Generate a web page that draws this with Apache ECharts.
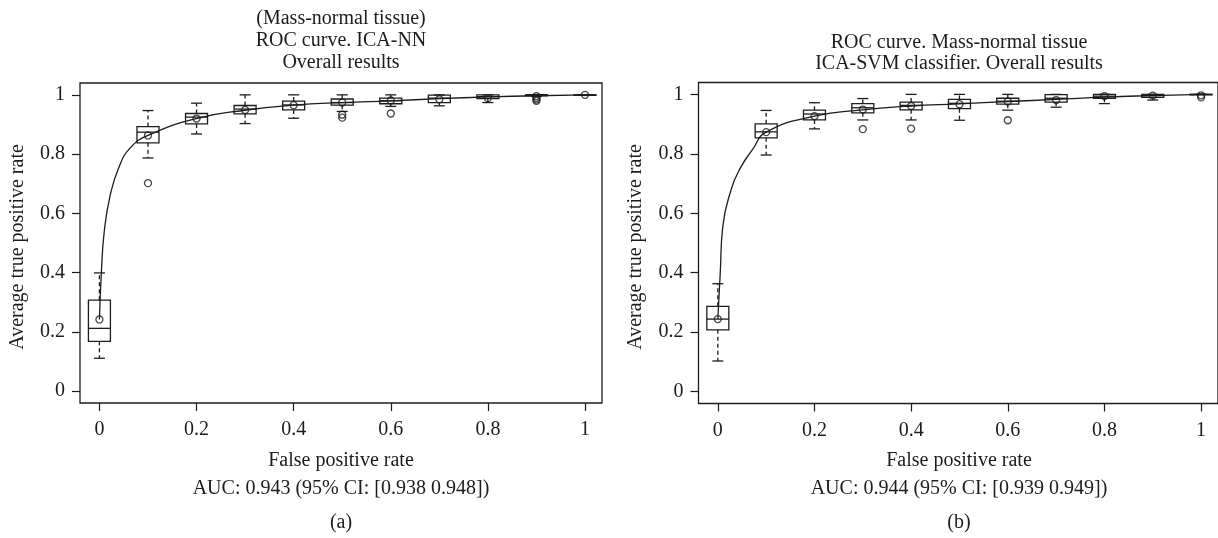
<!DOCTYPE html>
<html>
<head>
<meta charset="utf-8">
<script src="https://cdn.jsdelivr.net/npm/echarts@6/dist/echarts.min.js"></script>
<style>
  html, body { margin: 0; padding: 0; background: #fff; }
  #chart { width: 1218px; height: 538px; }
</style>
</head>
<body>
<div id="chart"></div>
<script>
// False positive rate positions of the cross-validation boxes
const fpr = [0, 0.1, 0.2, 0.3, 0.4, 0.5, 0.6, 0.7, 0.8, 0.9, 1.0];
const axisTicks = [0, 0.2, 0.4, 0.6, 0.8, 1];

// (a) ICA-NN: box statistics of the true positive rate per FPR
const nnLow  = [0.111, 0.787, 0.868, 0.903, 0.921, 0.944, 0.961, 0.963, 0.974, 0.995, 1.0];
const nnQ1   = [0.168, 0.838, 0.902, 0.936, 0.949, 0.965, 0.970, 0.974, 0.987, 0.997, 1.0];
const nnMed  = [0.212, 0.874, 0.925, 0.952, 0.966, 0.974, 0.980, 0.989, 0.994, 1.0, 1.0];
const nnQ3   = [0.307, 0.893, 0.937, 0.964, 0.979, 0.986, 0.989, 0.999, 1.0, 1.0, 1.0];
const nnHigh = [0.399, 0.947, 0.972, 1.0, 1.0, 1.0, 1.0, 1.0, 1.0, 1.0, 1.0];
const nnMean = [0.242, 0.863, 0.920, 0.949, 0.965, 0.974, 0.981, 0.985, 0.989, 0.996, 1.0];
const nnOutX = [0.1, 0.5, 0.5, 0.6, 0.9, 0.9, 0.9];
const nnOutY = [0.702, 0.933, 0.923, 0.937, 0.990, 0.985, 0.980];
// averaged ROC curve (a)
const nnCurveX = [0, 0.004, 0.010, 0.022, 0.040, 0.063, 0.1, 0.2, 0.3, 0.4, 0.5, 0.6, 0.7, 0.8, 0.9, 1.0];
const nnCurveY = [0.242, 0.40, 0.54, 0.66, 0.755, 0.82, 0.863, 0.920, 0.948, 0.965, 0.974, 0.980, 0.987, 0.993, 0.997, 1.0];

// (b) ICA-SVM: box statistics of the true positive rate per FPR
const svmLow  = [0.103, 0.796, 0.884, 0.914, 0.914, 0.913, 0.947, 0.957, 0.969, 0.981, 1.0];
const svmQ1   = [0.208, 0.854, 0.914, 0.938, 0.948, 0.952, 0.967, 0.974, 0.987, 0.990, 1.0];
const svmMed  = [0.244, 0.874, 0.934, 0.955, 0.963, 0.970, 0.977, 0.987, 0.994, 0.996, 1.0];
const svmQ3   = [0.287, 0.901, 0.947, 0.969, 0.974, 0.983, 0.987, 0.999, 1.0, 1.0, 1.0];
const svmHigh = [0.363, 0.946, 0.972, 0.986, 1.0, 1.0, 1.0, 1.0, 1.0, 1.0, 1.0];
const svmMean = [0.244, 0.873, 0.927, 0.949, 0.961, 0.967, 0.976, 0.981, 0.994, 0.996, 0.997];
const svmOutX = [0.3, 0.4, 0.6, 1.0];
const svmOutY = [0.883, 0.885, 0.913, 0.990];
// averaged ROC curve (b)
const svmCurveX = [0, 0.005, 0.0103, 0.0276, 0.0447, 0.072, 0.1, 0.2, 0.3, 0.4, 0.5, 0.6, 0.7, 0.8, 0.9, 1.0];
const svmCurveY = [0.244, 0.40, 0.556, 0.680, 0.747, 0.815, 0.873, 0.927, 0.948, 0.961, 0.968, 0.976, 0.983, 0.991, 0.996, 1.0];

// Text
const titleA = ['(Mass-normal tissue)', 'ROC curve. ICA-NN', 'Overall results'];
const titleB = ['ROC curve. Mass-normal tissue', 'ICA-SVM classifier. Overall results'];
const xName = 'False positive rate';
const yName = 'Average true positive rate';
const aucA = 'AUC: 0.943 (95% CI: [0.938 0.948])';
const aucB = 'AUC: 0.944 (95% CI: [0.939 0.949])';
const panelTags = ['(a)', '(b)'];

const INK = '#1c1c1c';
const FONT = 'Liberation Serif';
const FS = 20;

function zip(...cols) {
  return cols[0].map((_, i) => cols.map(c => c[i]));
}

function renderBox(params, api) {
  const x = api.value(0);
  const lo = api.coord([x, api.value(1)]);
  const q1 = api.coord([x, api.value(2)]);
  const md = api.coord([x, api.value(3)]);
  const q3 = api.coord([x, api.value(4)]);
  const hi = api.coord([x, api.value(5)]);
  const cx = q1[0];
  const bw = 11, cw = 5.5;
  const solid = { stroke: INK, lineWidth: 1.3, fill: null };
  const dashed = { stroke: INK, lineWidth: 1.3, fill: null, lineDash: [4, 3] };
  return {
    type: 'group',
    children: [
      { type: 'line', shape: { x1: cx, y1: q3[1], x2: cx, y2: hi[1] }, style: dashed },
      { type: 'line', shape: { x1: cx, y1: q1[1], x2: cx, y2: lo[1] }, style: dashed },
      { type: 'line', shape: { x1: cx - cw, y1: hi[1], x2: cx + cw, y2: hi[1] }, style: solid },
      { type: 'line', shape: { x1: cx - cw, y1: lo[1], x2: cx + cw, y2: lo[1] }, style: solid },
      { type: 'rect', shape: { x: cx - bw, y: q3[1], width: 2 * bw, height: Math.max(q1[1] - q3[1], 0.5) },
        style: { stroke: INK, lineWidth: 1.3, fill: 'none' } },
      { type: 'line', shape: { x1: cx - bw, y1: md[1], x2: cx + bw, y2: md[1] }, style: solid }
    ]
  };
}

const tickStyle = { show: true, inside: false, length: 8, customValues: axisTicks, lineStyle: { color: INK, width: 1.2 } };

function xAxisFor(gridIndex) {
  return {
    type: 'value', gridIndex, min: -0.04, max: 1.035,
    axisLine: { show: false, onZero: false },
    axisTick: tickStyle,
    axisLabel: { customValues: axisTicks, margin: 17, color: INK, fontFamily: FONT, fontSize: FS },
    splitLine: { show: false }
  };
}
function yAxisFor(gridIndex) {
  return {
    type: 'value', gridIndex, min: -0.04, max: 1.04,
    axisLine: { show: false, onZero: false },
    axisTick: tickStyle,
    axisLabel: { customValues: axisTicks, margin: 15, color: INK, fontFamily: FONT, fontSize: FS },
    splitLine: { show: false }
  };
}

function panelSeries(idx, low, q1, med, q3, high, mean, outX, outY, curveX, curveY) {
  const circle = {
    type: 'scatter', xAxisIndex: idx, yAxisIndex: idx,
    symbol: 'circle', symbolSize: 7,
    itemStyle: { color: 'rgba(0,0,0,0)', borderColor: INK, borderWidth: 1.3 },
    z: 4
  };
  return [
    {
      type: 'custom', xAxisIndex: idx, yAxisIndex: idx,
      renderItem: renderBox,
      encode: { x: 0, y: [1, 2, 3, 4, 5] },
      data: zip(fpr, low, q1, med, q3, high),
      z: 2
    },
    Object.assign({}, circle, { data: zip(fpr, mean) }),
    Object.assign({}, circle, { data: zip(outX, outY) }),
    {
      type: 'line', xAxisIndex: idx, yAxisIndex: idx,
      data: zip(curveX, curveY),
      symbol: 'none', smooth: 0.5,
      lineStyle: { color: INK, width: 1.3 },
      z: 5
    }
  ];
}

function txt(text, x, y, rotation) {
  return {
    type: 'text', x, y, rotation: rotation || 0,
    style: { text, fill: INK, font: `${FS}px "${FONT}"`, align: 'center', verticalAlign: 'middle' }
  };
}

const cA = 341, cB = 959;
const graphics = [];
titleA.forEach((t, i) => graphics.push(txt(t, cA, 19 + i * 22)));
titleB.forEach((t, i) => graphics.push(txt(t, cB, 43 + i * 21)));
graphics.push(txt(xName, cA, 461), txt(aucA, cA, 489), txt(panelTags[0], cA, 523));
graphics.push(txt(xName, cB, 461), txt(aucB, cB, 489), txt(panelTags[1], cB, 523));
graphics.push(txt(yName, 18, 247, Math.PI / 2), txt(yName, 636, 247, Math.PI / 2));

const chart = echarts.init(document.getElementById('chart'), null, { renderer: 'canvas' });
chart.setOption({
  animation: false,
  backgroundColor: '#fff',
  grid: [
    { left: 80, top: 83, width: 522, height: 320, show: true, borderColor: INK, borderWidth: 1.3, backgroundColor: 'transparent' },
    { left: 698.5, top: 82.5, width: 522, height: 321, show: true, borderColor: INK, borderWidth: 1.3, backgroundColor: 'transparent' }
  ],
  xAxis: [xAxisFor(0), xAxisFor(1)],
  yAxis: [yAxisFor(0), yAxisFor(1)],
  series: [
    ...panelSeries(0, nnLow, nnQ1, nnMed, nnQ3, nnHigh, nnMean, nnOutX, nnOutY, nnCurveX, nnCurveY),
    ...panelSeries(1, svmLow, svmQ1, svmMed, svmQ3, svmHigh, svmMean, svmOutX, svmOutY, svmCurveX, svmCurveY)
  ],
  graphic: graphics
});
</script>
</body>
</html>
